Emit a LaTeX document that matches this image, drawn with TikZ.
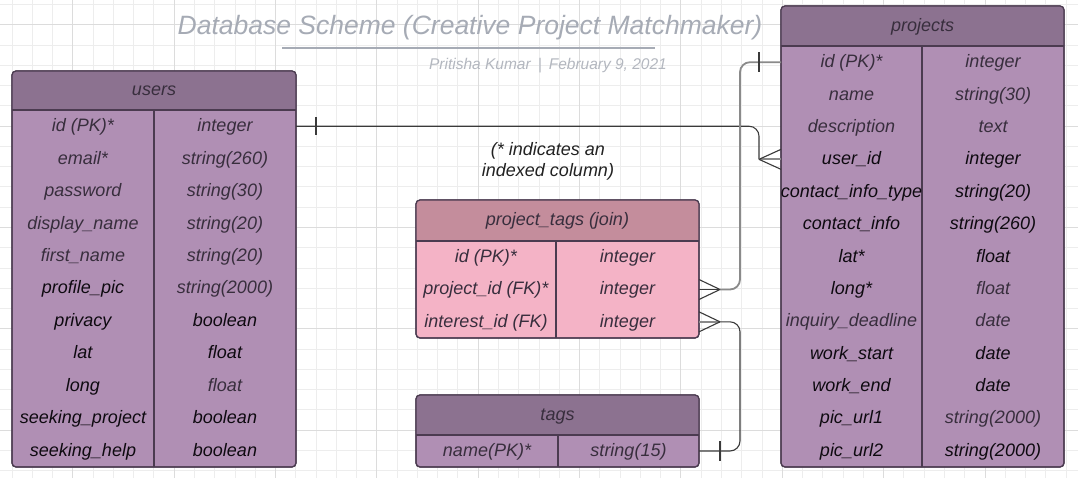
\documentclass[tikz,border=0pt]{standalone}
\usepackage{fontspec}
\setmainfont{Liberation Sans}
\usetikzlibrary{calc}
\definecolor{hdrP}{HTML}{8C7290}
\definecolor{bodyP}{HTML}{B08FB4}
\definecolor{hdrR}{HTML}{C48D9C}
\definecolor{bodyR}{HTML}{F4B3C6}
\definecolor{edgeC}{HTML}{4B3B50}
\definecolor{dimT}{HTML}{382E3D}
\definecolor{blkT}{HTML}{0E0A10}
\definecolor{gridMin}{HTML}{EDEDED}
\definecolor{gridMaj}{HTML}{DCDCDC}
\definecolor{titleC}{HTML}{A6ABB5}
\definecolor{subC}{HTML}{B3B7BF}
\definecolor{lineD}{HTML}{3A3A3A}
\definecolor{lineG}{HTML}{8A8A8A}
\definecolor{noteC}{HTML}{222222}
\tikzset{
  cell/.style={inner sep=0pt, outer sep=0pt, font=\fontsize{18}{21}\selectfont\itshape,
    text height=15pt, text depth=4pt},
  hdrtext/.style={cell, text=dimT},
  tblbox/.style={draw=edgeC, line width=1.2pt, rounded corners=4pt, inner sep=0pt, outer sep=0pt, anchor=north west},
  tbledge/.style={draw=edgeC, line width=1.2pt},
  connD/.style={draw=lineD, line width=1.1pt},
  connG/.style={draw=lineG, line width=1.8pt},
  titletext/.style={font=\fontsize{26.5}{30}\selectfont\itshape, text=titleC, inner sep=0pt, anchor=base},
  subtext/.style={font=\fontsize{15.5}{18}\selectfont\itshape, text=subC, inner sep=0pt, anchor=base},
  notetext/.style={font=\fontsize{18}{21}\selectfont\itshape, text=noteC, inner sep=0pt, anchor=base},
}
% #1 name, #2 x1, #3 y1, #4 x2, #5 y2, #6 header bottom y, #7 divider x, #8 header colour, #9 body colour
\newcommand\dbframe[9]{%
  \node[tblbox, fill=#9, minimum width={(#4-#2)*1pt}, minimum height={(#5-#3)*1pt}] (#1) at (#2,#3) {};
  \begin{scope}
    \clip[rounded corners=4pt] (#1.north west) rectangle (#1.south east);
    \fill[#8] (#2,#3) rectangle (#4,#6);
  \end{scope}
  \draw[tbledge] (#2,#6) -- (#4,#6);
  \draw[tbledge] (#7,#6) -- (#7,#5);
  \draw[tbledge, rounded corners=4pt] (#1.north west) rectangle (#1.south east);
}
% #1 name, #2 x1, #3 xdiv, #4 x2, #5 header bottom y, #6 row height, #7 rows
\newcommand\dbrows[7]{%
  \foreach \lt/\lc/\rt/\rc [count=\n] in {#7}{
    \node[cell, text=\lc, minimum width={(#3-#2)*1pt}] (#1-\n-l) at ({(#2+#3)/2}, {#5+(\n-0.5)*#6}) {\lt};
    \node[cell, text=\rc, minimum width={(#4-#3)*1pt}] (#1-\n-r) at ({(#3+#4)/2}, {#5+(\n-0.5)*#6}) {\rt};
  }%
}
\begin{document}
\begin{tikzpicture}[x=1pt,y=-1pt]
\useasboundingbox (0,0) rectangle (1078,478);
\fill[white] (0,0) rectangle (1078,478);
% grid
\foreach \i in {0,...,52} \draw[gridMin, line width=0.9pt] ({12+20.27*\i},0) -- ({12+20.27*\i},478);
\foreach \i in {0,...,23} \draw[gridMin, line width=0.9pt] (0,{4.5+20.27*\i}) -- (1078,{4.5+20.27*\i});
\foreach \i in {3,8,...,48} \draw[gridMaj, line width=0.9pt] ({12+20.27*\i},0) -- ({12+20.27*\i},478);
\foreach \i in {1,6,...,21} \draw[gridMaj, line width=0.9pt] (0,{4.5+20.27*\i}) -- (1078,{4.5+20.27*\i});

% title
\node[titletext] (title) at (470,35) {Database Scheme (Creative Project Matchmaker)};
\draw[titleC, line width=2pt] (282,48) -- (655,48);
\node[subtext] (subtitle) at (548,69.3) {Pritisha Kumar\hspace{7pt}|\hspace{7pt}February 9, 2021};

% note
\node[notetext] (note1) at (548,155.5) {(* indicates an};
\node[notetext] (note2) at (548,177) {indexed column)};

% users
\dbframe{users}{12}{71}{296}{467}{110}{154}{hdrP}{bodyP}
\node[hdrtext] (users-title) at (154,90.5) {users};
\dbrows{users}{12}{154}{296}{110}{32.45}{
  id (PK)*/dimT/integer/dimT,
  email*/dimT/string(260)/dimT,
  password/dimT/string(30)/dimT,
  display\_name/dimT/string(20)/dimT,
  first\_name/dimT/string(20)/dimT,
  profile\_pic/blkT/string(2000)/dimT,
  privacy/blkT/boolean/blkT,
  lat/blkT/float/blkT,
  long/blkT/float/dimT,
  seeking\_project/blkT/boolean/blkT,
  seeking\_help/blkT/boolean/blkT}

% projects
\dbframe{projects}{781}{6}{1064}{467}{46}{922}{hdrP}{bodyP}
\node[hdrtext] (projects-title) at (922.5,26) {projects};
\dbrows{projects}{781}{922}{1064}{46}{32.385}{
  id (PK)*/dimT/integer/dimT,
  name/dimT/string(30)/dimT,
  description/dimT/text/dimT,
  user\_id/blkT/integer/blkT,
  contact\_info\_type/blkT/string(20)/blkT,
  contact\_info/blkT/string(260)/blkT,
  lat*/blkT/float/blkT,
  long*/blkT/float/dimT,
  inquiry\_deadline/dimT/date/dimT,
  work\_start/blkT/date/blkT,
  work\_end/blkT/date/blkT,
  pic\_url1/blkT/string(2000)/dimT,
  pic\_url2/blkT/string(2000)/blkT}

% project_tags
\dbframe{ptags}{416}{200}{699}{338}{241}{556}{hdrR}{bodyR}
\node[hdrtext] (ptags-title) at (557.5,220.5) {project\_tags (join)};
\dbrows{ptags}{416}{556}{699}{241}{32.33}{
  id (PK)*/dimT/integer/dimT,
  project\_id (FK)*/dimT/integer/dimT,
  interest\_id (FK)/dimT/integer/dimT}

% tags
\dbframe{tags}{416}{395}{699}{467}{435}{558}{hdrP}{bodyP}
\node[hdrtext] (tags-title) at (557.5,415) {tags};
\dbrows{tags}{416}{558}{699}{435}{32}{
  name(PK)*/dimT/string(15)/dimT}

% users.id -> projects.user_id (one to many)
\coordinate (cf1) at ([xshift=-22pt]projects-4-l.west);
\draw[connD, rounded corners=10pt] (users-1-r.east) -| (cf1);
\draw[connD] ([xshift=20pt,yshift=9pt]users-1-r.east) -- ([xshift=20pt,yshift=-9pt]users-1-r.east);
\draw[connG] (cf1) -- (projects-4-l.west);
\draw[connD] (cf1) -- ([yshift=10pt]projects-4-l.west);
\draw[connD] (cf1) -- ([yshift=-10pt]projects-4-l.west);

% projects.id -> project_tags.project_id
\coordinate (cf2) at ([xshift=21pt]ptags-2-r.east);
\draw[connG, rounded corners=10pt] (projects-1-l.west) -| ([xshift=20pt]cf2) -- (cf2);
\draw[connD] ([xshift=-22pt,yshift=10pt]projects-1-l.west) -- ([xshift=-22pt,yshift=-10pt]projects-1-l.west);
\draw[connD] (cf2) -- (ptags-2-r.east);
\draw[connD] (cf2) -- ([yshift=10pt]ptags-2-r.east);
\draw[connD] (cf2) -- ([yshift=-10pt]ptags-2-r.east);

% tags.name -> project_tags.interest_id
\coordinate (cf3) at ([xshift=21pt]ptags-3-r.east);
\draw[connD, rounded corners=10pt] (tags-1-r.east) -| ([xshift=20pt]cf3) -- (cf3);
\draw[connD] ([xshift=21pt,yshift=10pt]tags-1-r.east) -- ([xshift=21pt,yshift=-10pt]tags-1-r.east);
\draw[connG] (cf3) -- (ptags-3-r.east);
\draw[connD] (cf3) -- ([yshift=10pt]ptags-3-r.east);
\draw[connD] (cf3) -- ([yshift=-10pt]ptags-3-r.east);
\end{tikzpicture}
\end{document}
